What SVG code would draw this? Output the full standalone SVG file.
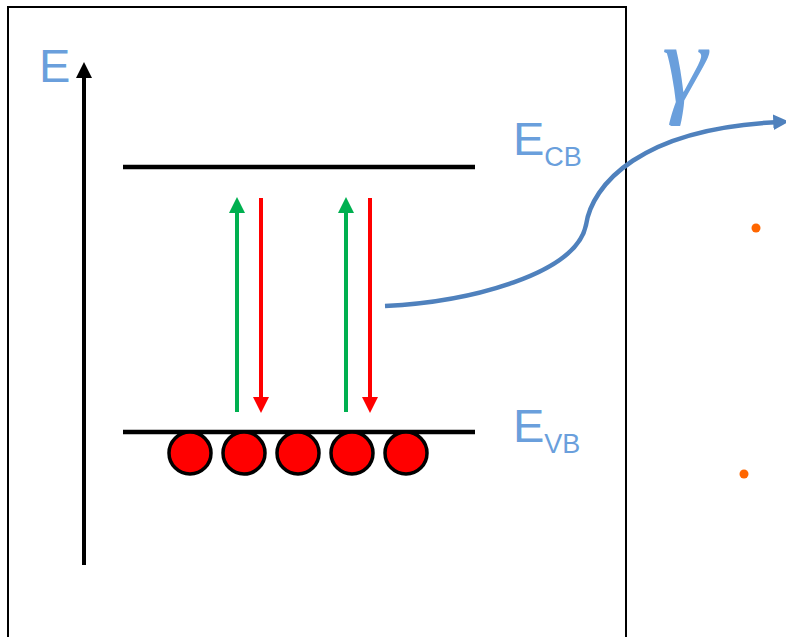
<svg xmlns="http://www.w3.org/2000/svg" width="786" height="637" viewBox="0 0 786 637">
<style>
.lbl{fill:#6a9fdc;font-family:"Liberation Sans",Arial,sans-serif}
.lvl{stroke:#000;stroke-width:4.5}
.g{stroke:#00b050;stroke-width:4}
.r{stroke:#ff0000;stroke-width:4}
.e{fill:#ff0000;stroke:#000;stroke-width:3.5}
</style>
<defs>
<marker id="ag" markerWidth="4" markerHeight="4" refX="2" refY="2" orient="auto" markerUnits="strokeWidth" viewBox="0 0 4 4"><path d="M0,0 L4,2 L0,4 Z" fill="#00b050"/></marker>
<marker id="ar" markerWidth="4" markerHeight="4" refX="2" refY="2" orient="auto" markerUnits="strokeWidth" viewBox="0 0 4 4"><path d="M0,0 L4,2 L0,4 Z" fill="#ff0000"/></marker>
<marker id="ak" markerWidth="4" markerHeight="4" refX="2" refY="2" orient="auto" markerUnits="strokeWidth" viewBox="0 0 4 4"><path d="M0,0 L4,2 L0,4 Z" fill="#000"/></marker>
<marker id="ab" markerWidth="3.5" markerHeight="3.5" refX="1.5" refY="1.75" orient="auto" markerUnits="strokeWidth" viewBox="0 0 3.5 3.5"><path d="M0,0 L3.5,1.75 L0,3.5 Z" fill="#4f81bd"/></marker>
</defs>
<g id="box"><rect x="8" y="7" width="618" height="640" fill="none" stroke="#000" stroke-width="2"/></g>
<g id="axis">
<line x1="84" y1="565" x2="84" y2="70" stroke="#000" stroke-width="4" marker-end="url(#ak)"/>
<text class="lbl" x="39" y="82" font-size="47">E</text>
</g>
<g id="cb">
<line class="lvl" x1="123" y1="167" x2="475" y2="167"/>
<text class="lbl" x="513" y="155" font-size="47">E<tspan font-size="27" dy="11">CB</tspan></text>
</g>
<g id="vb">
<line class="lvl" x1="123" y1="432" x2="475" y2="432"/>
<text class="lbl" x="513" y="442" font-size="47">E<tspan font-size="27" dy="11">VB</tspan></text>
</g>
<g id="electrons">
<circle class="e" cx="190" cy="453" r="21"/>
<circle class="e" cx="244" cy="453" r="21"/>
<circle class="e" cx="298" cy="453" r="21"/>
<circle class="e" cx="352" cy="453" r="21"/>
<circle class="e" cx="406" cy="453" r="21"/>
</g>
<g id="connectors">
<line class="g" x1="237" y1="412" x2="237" y2="205" marker-end="url(#ag)"/>
<line class="r" x1="261" y1="198" x2="261" y2="405" marker-end="url(#ar)"/>
<line class="g" x1="346" y1="412" x2="346" y2="205" marker-end="url(#ag)"/>
<line class="r" x1="370" y1="198" x2="370" y2="405" marker-end="url(#ar)"/>
<path d="M385,306 C470,302 576,274 586,225 C592,185 640,128 780,122" fill="none" stroke="#4f81bd" stroke-width="4.5" marker-end="url(#ab)"/>
</g>
<g id="gamma"><text x="662" y="102" font-size="114" font-style="italic" fill="#6a9fdc" font-family="'Liberation Serif','Times New Roman',serif">γ</text></g>
<g id="dots">
<circle cx="756" cy="228" r="4.5" fill="#ff6600"/>
<circle cx="744" cy="474" r="4.5" fill="#ff6600"/>
</g>
</svg>
